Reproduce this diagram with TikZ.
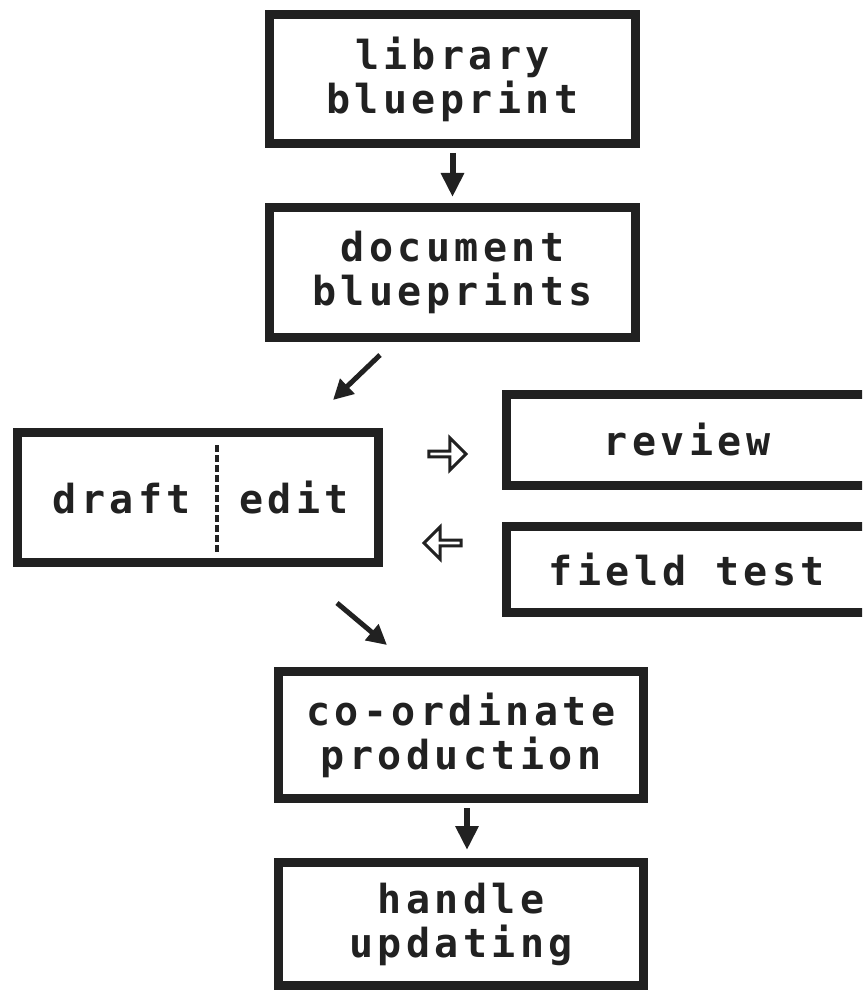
\documentclass[tikz,border=0pt]{standalone}
\usepackage{fontspec}
\usetikzlibrary{arrows.meta,shapes.arrows}
\newfontfamily\boxfont[LetterSpace=11]{DejaVu Sans Mono}
\definecolor{ink}{rgb}{0.13,0.13,0.13}
\tikzset{
  box/.style={draw=ink, line width=9pt, fill=white, inner sep=0pt, align=center, text=ink,
    font=\boxfont\bfseries\fontsize{40}{44}\selectfont},
  word/.style={inner sep=0pt, text=ink, anchor=base, font=\boxfont\bfseries\fontsize{40}{44}\selectfont},
  solidarrow/.style={draw=ink, line width=6pt, -{Triangle[length=24pt,width=22pt]}},
  diagarrow/.style={draw=ink, line width=5pt, -{Triangle[length=20pt,width=20pt]}},
  openarrow/.style={single arrow, draw=ink, line width=3pt, fill=white, minimum height=37pt,
    minimum width=32pt, inner sep=0pt, single arrow head extend=7pt, single arrow head indent=0pt},
  divider/.style={draw=ink, line width=3.5pt, dash pattern=on 7pt off 3pt}
}
\begin{document}
\begin{tikzpicture}[x=1pt,y=-1pt]
\clip (0,0) rectangle (862,992);
\fill[white] (0,0) rectangle (862,992);
% boxes
\node[box, minimum width=366pt, minimum height=129pt] (lib) at (452.5,79) {library\\blueprint};
\node[box, minimum width=366pt, minimum height=130pt] (doc) at (452.5,272.5) {document\\blueprints};
\node[box, minimum width=361pt, minimum height=130pt] (work) at (198,497.5) {};
\node[word] (draft) at (122,513) {draft};
\node[word] (edit) at (294,513) {edit};
\coordinate (divtop) at (217,445);
\coordinate (divbot) at (217,552);
\draw[divider] (divtop) -- (divbot);
\node[box, minimum width=361pt, minimum height=91pt] (review) at (687,440) {review};
\node[box, minimum width=361pt, minimum height=86pt] (test) at (687,569.5) {field test};
\node[box, minimum width=365pt, minimum height=127pt] (coord) at (461,735) {co-ordinate\\production};
\node[box, minimum width=365pt, minimum height=123pt] (handle) at (461,924) {handle\\updating};
% open arrows
\node[openarrow] (toreview) at (446,454) {};
\node[openarrow, shape border rotate=180] (fromtest) at (444,543) {};
% solid arrows
\draw[solidarrow, shorten <=5pt, shorten >=6pt] (lib) -- (doc);
\draw[solidarrow, shorten <=5pt, shorten >=8pt] ([xshift=6pt]coord.south) -- ([xshift=6pt]handle.north);
\coordinate (a2s) at (380,355);
\coordinate (a2e) at (333,400);
\draw[diagarrow] (a2s) -- (a2e);
\coordinate (a3s) at (337,603);
\coordinate (a3e) at (387,645);
\draw[diagarrow] (a3s) -- (a3e);
\end{tikzpicture}
\end{document}
